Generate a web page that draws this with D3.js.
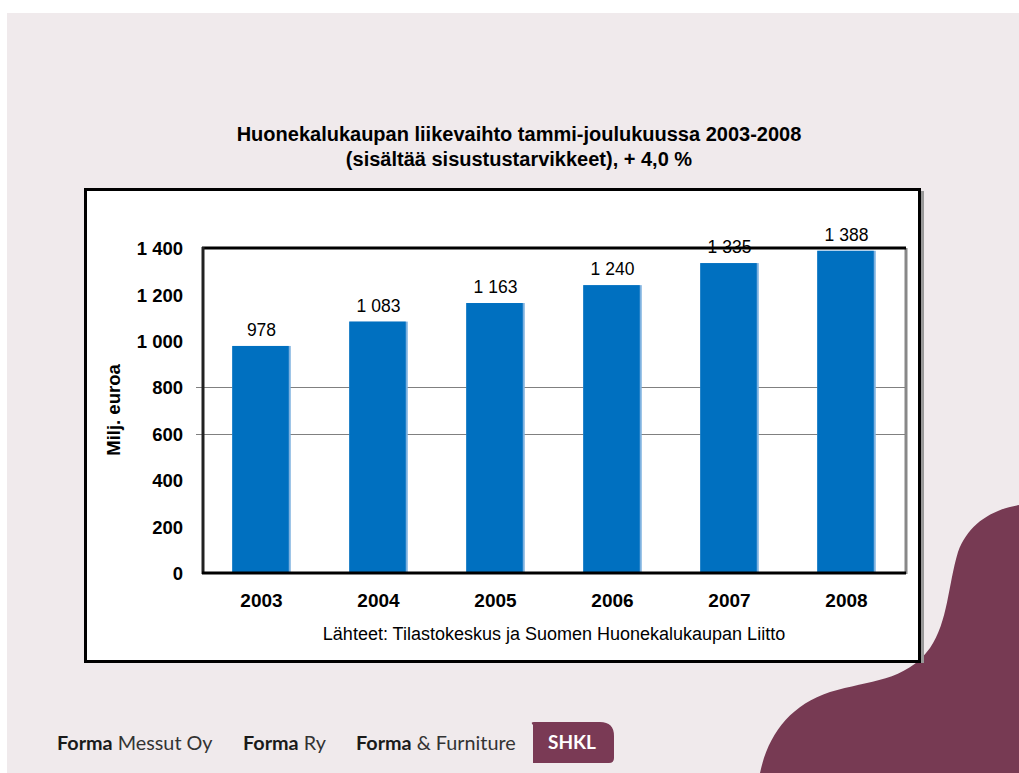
<!DOCTYPE html>
<html>
<head>
<meta charset="utf-8">
<script src="https://cdn.jsdelivr.net/npm/d3@7"></script>
<style>
  body { margin: 0; background: #fff; }
  svg { display: block; }
</style>
</head>
<body>
<div id="chart"></div>
<script>
var years = ["2003", "2004", "2005", "2006", "2007", "2008"];
var sales = [978, 1083, 1163, 1240, 1335, 1388];
var tickValues = [0, 200, 400, 600, 800, 1000, 1200, 1400];
var gridValues = [600, 800];
var titleLines = ["Huonekalukaupan liikevaihto tammi-joulukuussa 2003-2008",
                  "(sisältää sisustustarvikkeet), + 4,0 %"];
var footerItems = [["Forma", " Messut Oy"], ["Forma", " Ry"], ["Forma", " & Furniture"]];

var svg = d3.select("#chart")
            .append("svg")
            .attr("width", 1019)
            .attr("height", 773);

var font = "Liberation Sans, Arial, sans-serif";

// slide background
svg.append("rect")
   .attr("x", 7).attr("y", 13)
   .attr("width", 1012).attr("height", 760)
   .attr("fill", "#f0eaec");

// purple blob bottom right
svg.append("path")
   .attr("d", "M760,773 C768,735 790,705 830,692 C870,680 905,682 930,648 " +
              "C948,622 948,585 958,552 C968,525 990,510 1019,505 L1019,773 Z")
   .attr("fill", "#773a53");

// title
svg.append("text")
   .attr("x", 519).attr("y", 141)
   .attr("text-anchor", "middle")
   .attr("font-family", font)
   .attr("font-size", 20)
   .attr("font-weight", "bold")
   .selectAll("tspan")
   .data(titleLines)
   .enter().append("tspan")
   .attr("x", 519)
   .attr("dy", function(d, i) { return i ? 25 : 0; })
   .text(function(d) { return d; });

// outer chart box with a small shadow
svg.append("rect")
   .attr("x", 87).attr("y", 191)
   .attr("width", 837).attr("height", 472)
   .attr("fill", "#999");
svg.append("rect")
   .attr("x", 85.5).attr("y", 189.5)
   .attr("width", 834).attr("height", 472)
   .attr("fill", "#fff")
   .attr("stroke", "#000")
   .attr("stroke-width", 3);

var plotLeft = 203, plotRight = 905, plotTop = 248, plotBottom = 573;

var x = d3.scaleBand()
          .domain(years)
          .range([plotLeft, plotRight])
          .paddingInner(0.5)
          .paddingOuter(0.25);

var y = d3.scaleLinear()
          .domain([0, 1400])
          .range([plotBottom, plotTop]);

// plot frame: shadow on the right
svg.append("line")
   .attr("x1", plotRight + 1).attr("x2", plotRight + 1)
   .attr("y1", plotTop).attr("y2", plotBottom + 1)
   .attr("stroke", "#888").attr("stroke-width", 3);

// gridlines (only these are drawn in the original)
svg.append("g")
   .selectAll("line")
   .data(gridValues)
   .enter().append("line")
   .attr("x1", plotLeft - 7).attr("x2", plotRight)
   .attr("y1", function(d) { return Math.round(y(d)) + 0.5; })
   .attr("y2", function(d) { return Math.round(y(d)) + 0.5; })
   .attr("stroke", "#808080")
   .attr("stroke-width", 1);

// bars
var data = years.map(function(d, i) { return { year: d, value: sales[i] }; });

var bars = svg.append("g");
bars.selectAll("rect.edge")
    .data(data)
    .enter().append("rect")
    .attr("class", "edge")
    .attr("x", function(d) { return x(d.year); })
    .attr("y", function(d) { return y(d.value); })
    .attr("width", x.bandwidth())
    .attr("height", function(d) { return plotBottom - y(d.value); })
    .attr("fill", "#7fb2e0");
bars.selectAll("rect.bar")
    .data(data)
    .enter().append("rect")
    .attr("class", "bar")
    .attr("x", function(d) { return x(d.year); })
    .attr("y", function(d) { return y(d.value); })
    .attr("width", x.bandwidth() - 2)
    .attr("height", function(d) { return plotBottom - y(d.value); })
    .attr("fill", "#0070c0");

var fmt = function(d) { return d3.format(",")(d).replace(/,/g, " "); };

// value labels (drawn before the frame, the top line runs through 1 335)
svg.append("g")
   .selectAll("text")
   .data(data)
   .enter().append("text")
   .attr("x", function(d) { return x(d.year) + x.bandwidth() / 2; })
   .attr("y", function(d) { return y(d.value) - 10; })
   .attr("text-anchor", "middle")
   .attr("font-family", font)
   .attr("font-size", 17.5)
   .attr("fill", "#000")
   .text(function(d) { return fmt(d.value); });

// frame lines: top, left, bottom
svg.append("line")
   .attr("x1", plotLeft - 1).attr("x2", plotRight + 1)
   .attr("y1", plotTop).attr("y2", plotTop)
   .attr("stroke", "#000").attr("stroke-width", 3);
svg.append("line")
   .attr("x1", plotLeft).attr("x2", plotLeft)
   .attr("y1", plotTop - 1).attr("y2", plotBottom + 1)
   .attr("stroke", "#222").attr("stroke-width", 3);
svg.append("line")
   .attr("x1", plotLeft - 1).attr("x2", plotRight + 1)
   .attr("y1", plotBottom).attr("y2", plotBottom)
   .attr("stroke", "#000").attr("stroke-width", 3);

// y axis
var yAxis = svg.append("g")
   .attr("transform", "translate(" + (plotLeft - 20) + ",0)")
   .call(d3.axisLeft(y).tickValues(tickValues).tickSize(0).tickPadding(0).tickFormat(fmt));
yAxis.select(".domain").remove();
yAxis.selectAll("text")
     .attr("font-family", font)
     .attr("font-size", 18.5)
     .attr("font-weight", "bold")
     .attr("fill", "#000")
     .attr("dy", "0.36em");

// x axis
var xAxis = svg.append("g")
   .attr("transform", "translate(0," + plotBottom + ")")
   .call(d3.axisBottom(x).tickSize(0).tickPadding(21));
xAxis.select(".domain").remove();
xAxis.selectAll("text")
     .attr("font-family", font)
     .attr("font-size", 19)
     .attr("font-weight", "bold")
     .attr("fill", "#000");

// y axis title
svg.append("text")
   .attr("transform", "translate(120,410) rotate(-90)")
   .attr("text-anchor", "middle")
   .attr("font-family", font)
   .attr("font-size", 18.5)
   .attr("font-weight", "bold")
   .attr("fill", "#000")
   .text("Milj. euroa");

// source
svg.append("text")
   .attr("x", 554).attr("y", 640)
   .attr("text-anchor", "middle")
   .attr("font-family", font)
   .attr("font-size", 18)
   .attr("fill", "#000")
   .text("Lähteet: Tilastokeskus ja Suomen Huonekalukaupan Liitto");

// footer logos
var footerX = [57, 243, 356];
footerItems.forEach(function(item, i) {
    var t = svg.append("text")
       .attr("x", footerX[i]).attr("y", 750)
       .attr("font-family", "Lato, 'Open Sans', sans-serif")
       .attr("font-size", 19.8)
       .attr("fill", "#1a1a1a");
    t.append("tspan").attr("font-weight", "bold").text(item[0]);
    t.append("tspan").attr("font-weight", "normal").attr("fill", "#333").text(item[1]);
});

svg.append("path")
   .attr("d", "M533,725 Q530,722 534,722 L600,722 Q614,722 614,736 L614,758 Q614,763 609,763 L533,763 Z")
   .attr("fill", "#7a3a55");
svg.append("text")
   .attr("x", 572).attr("y", 749)
   .attr("text-anchor", "middle")
   .attr("font-family", "Lato, 'Open Sans', sans-serif")
   .attr("font-size", 19)
   .attr("font-weight", "bold")
   .attr("fill", "#fff")
   .text("SHKL");
</script>
</body>
</html>
